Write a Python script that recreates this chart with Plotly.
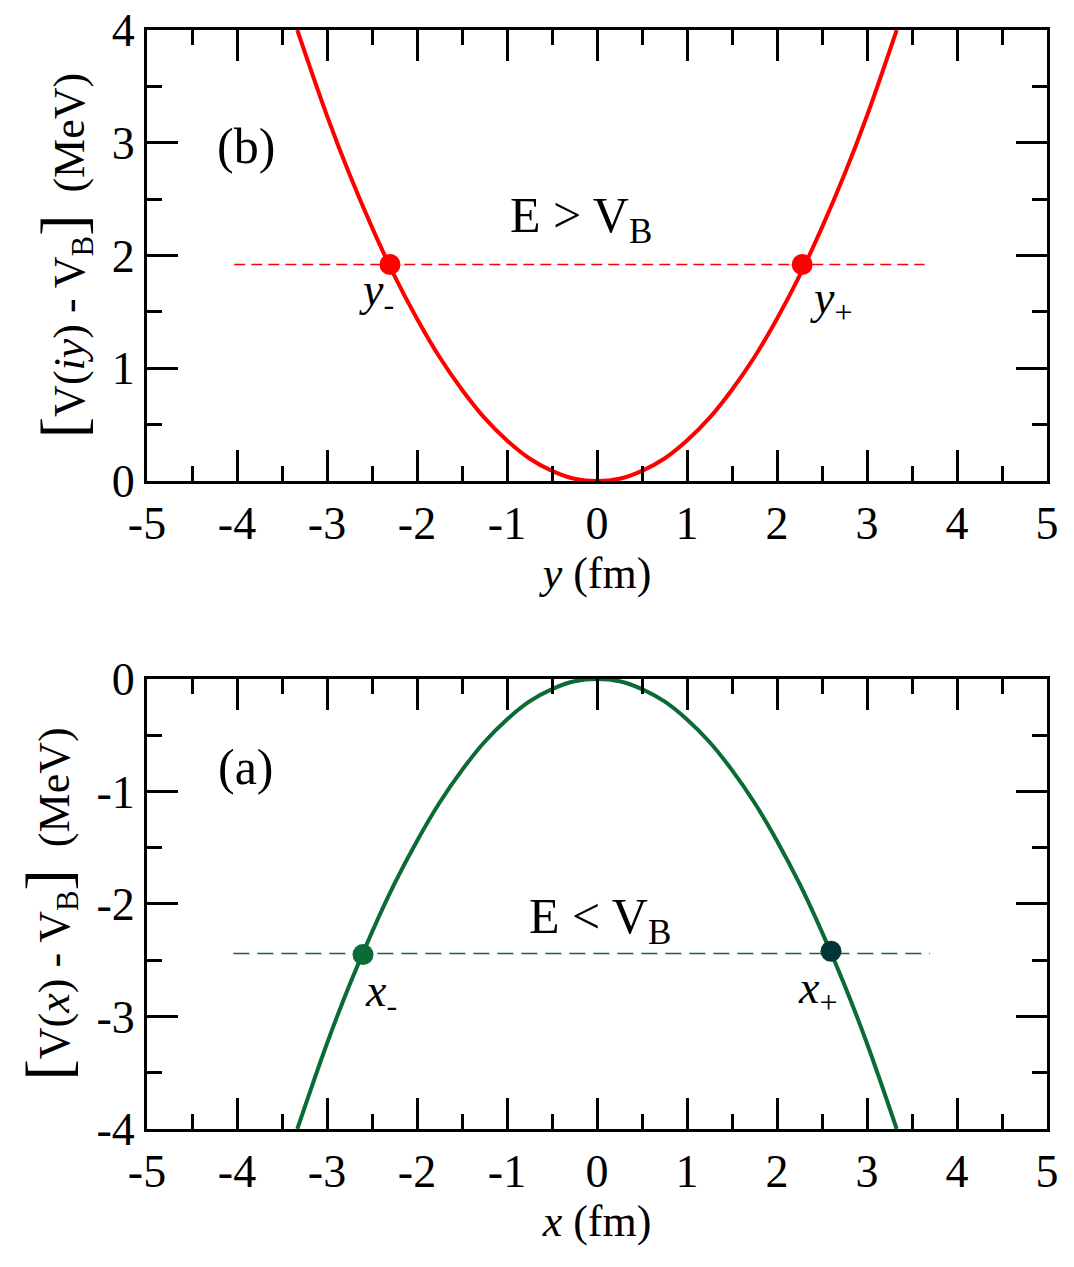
import plotly.graph_objects as go

# Curve samples
pos = [-3.33, -3.0, -2.75, -2.5, -2.25, -2.0, -1.75, -1.5, -1.25, -1.0, -0.75, -0.5, -0.25, 0.0,
       0.25, 0.5, 0.75, 1.0, 1.25, 1.5, 1.75, 2.0, 2.25, 2.5, 2.75, 3.0, 3.33]
v_top = [4.0, 3.24, 2.72, 2.25, 1.82, 1.44, 1.10, 0.81, 0.56, 0.36, 0.20, 0.09, 0.02, 0.0,
         0.02, 0.09, 0.20, 0.36, 0.56, 0.81, 1.10, 1.44, 1.82, 2.25, 2.72, 3.24, 4.0]
v_bot = [-4.0, -3.24, -2.72, -2.25, -1.82, -1.44, -1.10, -0.81, -0.56, -0.36, -0.20, -0.09, -0.02, 0.0,
         -0.02, -0.09, -0.20, -0.36, -0.56, -0.81, -1.10, -1.44, -1.82, -2.25, -2.72, -3.24, -4.0]

e_top_x = [-4.03, 3.64]
e_top_y = [1.92, 1.92]
e_bot_x = [-4.04, 3.7]
e_bot_y = [-2.44, -2.44]

pts_top_x = [-2.3, 2.28]
pts_top_y = [1.92, 1.92]
pts_bot_x = [-2.6, 2.6]
pts_bot_y = [-2.45, -2.42]

xticks = [-5, -4, -3, -2, -1, 0, 1, 2, 3, 4, 5]
yticks_top = [0, 1, 2, 3, 4]
yticks_bot = [-4, -3, -2, -1, 0]

RED = "#ff0000"
GREEN = "#0b6b35"
DARK = "#023535"
FONT = "Liberation Serif"

fig = go.Figure()
fig.add_trace(go.Scatter(x=pos, y=v_top, mode="lines", line=dict(color=RED, width=4, shape="spline"),
                         xaxis="x2", yaxis="y2", showlegend=False))
fig.add_trace(go.Scatter(x=e_top_x, y=e_top_y, mode="lines", line=dict(color=RED, width=1.5, dash="11px,6px"),
                         xaxis="x2", yaxis="y2", showlegend=False))
fig.add_trace(go.Scatter(x=pts_top_x, y=pts_top_y, mode="markers", marker=dict(color=RED, size=21),
                         xaxis="x2", yaxis="y2", showlegend=False))

fig.add_trace(go.Scatter(x=pos, y=v_bot, mode="lines", line=dict(color=GREEN, width=4, shape="spline"),
                         xaxis="x", yaxis="y", showlegend=False))
fig.add_trace(go.Scatter(x=e_bot_x, y=e_bot_y, mode="lines", line=dict(color=GREEN, width=1.5, dash="16px,8px"),
                         xaxis="x", yaxis="y", showlegend=False))
fig.add_trace(go.Scatter(x=pts_bot_x, y=pts_bot_y, mode="markers", marker=dict(color=[GREEN, DARK], size=21),
                         xaxis="x", yaxis="y", showlegend=False))

axis_common = dict(
    showgrid=False, zeroline=False, showline=True, linecolor="black", linewidth=3, mirror="allticks",
    ticks="inside", ticklen=31, tickwidth=2.5, tickcolor="black",
    tickfont=dict(family=FONT, size=46, color="black"),
    minor=dict(ticks="inside", ticklen=15, tickwidth=2.5, tickcolor="black", dtick=0.5),
    automargin=False,
)

def arr(vals):
    return dict(tickmode="array", tickvals=vals, ticktext=[str(v) for v in vals])

BR = '<span style="font-size:64px">%s</span>'

fig.update_layout(
    width=1074, height=1267,
    margin=dict(l=147, r=27, t=30, b=138, autoexpand=False),
    plot_bgcolor="white", paper_bgcolor="white",
    font=dict(family=FONT, color="black"),
    xaxis2=dict(domain=[0, 1], range=[-5, 5], anchor="y2", **arr(xticks), **axis_common,
                title=dict(text="<i>y</i> (fm)", font=dict(family=FONT, size=44), standoff=6)),
    yaxis2=dict(domain=[0.5896, 1], range=[0, 4], anchor="x2", **arr(yticks_top), **axis_common,
                title=dict(text=(BR % "[") + "V(<i>iy</i>) - V<sub>B</sub>" + (BR % "]") + "  (MeV)",
                           font=dict(family=FONT, size=44), standoff=14)),
    xaxis=dict(domain=[0, 1], range=[-5, 5], anchor="y", **arr(xticks), **axis_common,
               title=dict(text="<i>x</i> (fm)", font=dict(family=FONT, size=44), standoff=6)),
    yaxis=dict(domain=[0, 0.4095], range=[-4, 0], anchor="x", **arr(yticks_bot), **axis_common,
               title=dict(text=(BR % "[") + "V(<i>x</i>) - V<sub>B</sub>" + (BR % "]") + "  (MeV)",
                          font=dict(family=FONT, size=44), standoff=14)),
)

ann_font = dict(family=FONT, size=50, color="black")
lab_font = dict(family=FONT, size=46, color="black")
fig.add_annotation(x=-3.9, y=2.97, xref="x2", yref="y2", text="(b)", showarrow=False, font=ann_font)
fig.add_annotation(x=-0.18, y=2.32, xref="x2", yref="y2", text="E > V<sub>B</sub>", showarrow=False, font=ann_font)
fig.add_annotation(x=-2.45, y=1.67, xref="x2", yref="y2", text="<i>y</i><sub>-</sub>", showarrow=False, font=lab_font)
fig.add_annotation(x=2.6, y=1.6, xref="x2", yref="y2", text="<i>y</i><sub>+</sub>", showarrow=False, font=lab_font)

fig.add_annotation(x=-3.9, y=-0.78, xref="x", yref="y", text="(a)", showarrow=False, font=ann_font)
fig.add_annotation(x=0.03, y=-2.14, xref="x", yref="y", text="E < V<sub>B</sub>", showarrow=False, font=ann_font)
fig.add_annotation(x=-2.4, y=-2.8, xref="x", yref="y", text="<i>x</i><sub>-</sub>", showarrow=False, font=lab_font)
fig.add_annotation(x=2.45, y=-2.77, xref="x", yref="y", text="<i>x</i><sub>+</sub>", showarrow=False, font=lab_font)

fig.write_html("out.html")
